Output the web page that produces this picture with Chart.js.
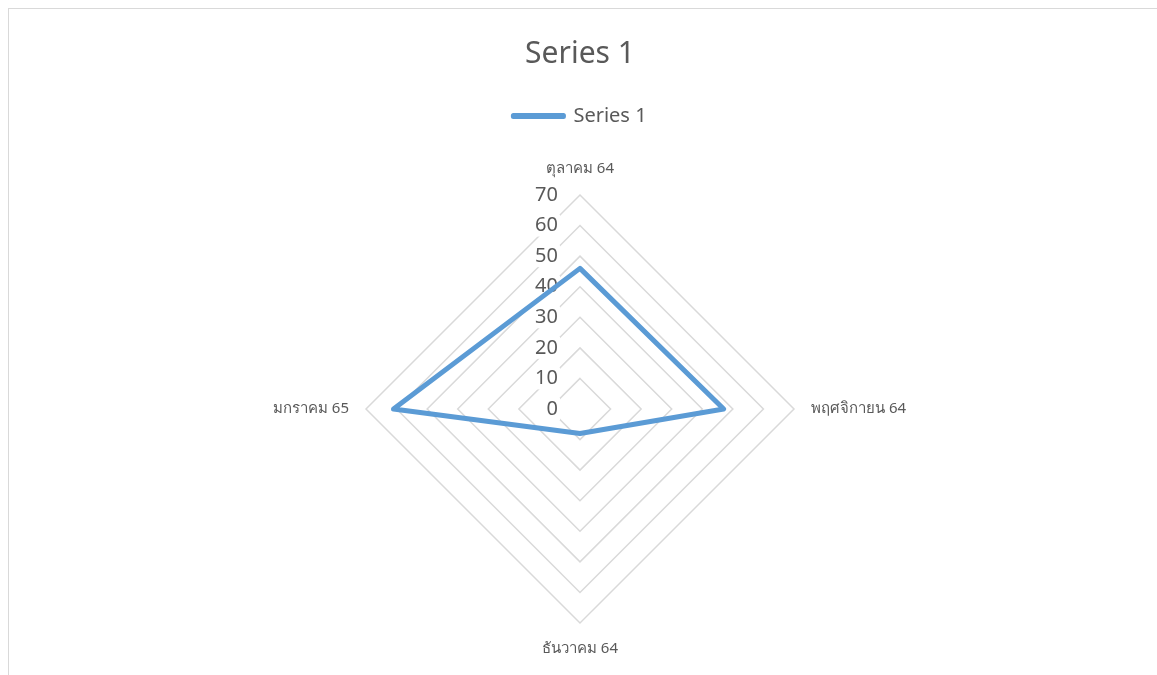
<!DOCTYPE html>
<html>
<head>
<meta charset="utf-8">
<script src="https://cdn.jsdelivr.net/npm/chart.js@4.4.0/dist/chart.umd.min.js"></script>
<style>
  body { margin: 0; background: #fff; }
  #wrap { position: absolute; left: 0; top: 0; width: 1157px; height: 675px; }
  #frame { position: absolute; left: 8px; top: 8px; width: 1160px; height: 680px;
           border-left: 1px solid #d9d9d9; border-top: 1px solid #d9d9d9; }
</style>
</head>
<body>
<div id="frame"></div>
<div id="wrap"><canvas id="radarChart"></canvas></div>
<script>
// --- data ---
const months = ['ตุลาคม 64', 'พฤศจิกายน 64', 'ธันวาคม 64', 'มกราคม 65'];
const series1 = [46, 47, 8, 61];
const tickValues = [0, 10, 20, 30, 40, 50, 60, 70];

const textColor = '#595959';
const fontFamily = "'Noto Sans', 'Open Sans', sans-serif";

// tick labels left of the vertical axis, like Excel
const tickLabelPlugin = {
  id: 'tickLabels',
  beforeInit(chart) {
    // extra room under the legend
    const fit = chart.legend.fit;
    chart.legend.fit = function () {
      fit.call(this);
      this.height += 24;
    };
  },
  beforeDatasetsDraw(chart) {
    const scale = chart.scales.r;
    const ctx = chart.ctx;
    ctx.save();
    ctx.font = '20px ' + fontFamily;
    ctx.textAlign = 'right';
    ctx.textBaseline = 'middle';
    tickValues.forEach(v => {
      const y = scale.yCenter - scale.getDistanceFromCenterForValue(v);
      const x = scale.xCenter - 22;
      const w = ctx.measureText(String(v)).width;
      ctx.fillStyle = '#fff';
      ctx.fillRect(x - w - 2, y - 11, w + 4, 22);
      ctx.fillStyle = textColor;
      ctx.fillText(String(v), x, y);
    });
    ctx.restore();
  }
};

const ctx = document.getElementById('radarChart').getContext('2d');
new Chart(ctx, {
  type: 'radar',
  data: {
    labels: months,
    datasets: [{
      label: 'Series 1',
      data: series1,
      borderColor: '#5b9bd5',
      backgroundColor: '#5b9bd5',
      borderWidth: 5,
      borderJoinStyle: 'round',
      borderCapStyle: 'round',
      fill: false,
      pointRadius: 0,
      pointHoverRadius: 0,
      tension: 0
    }]
  },
  options: {
    responsive: true,
    maintainAspectRatio: false,
    animation: false,
    layout: { padding: { left: 3, right: 0, top: 0, bottom: 16 } },
    plugins: {
      title: {
        display: true,
        text: 'Series 1',
        color: textColor,
        font: { size: 30, family: fontFamily, weight: 'normal' },
        padding: { top: 36, bottom: 24 }
      },
      legend: {
        display: true,
        labels: {
          color: textColor,
          font: { size: 20, family: fontFamily },
          boxWidth: 50,
          boxHeight: 1
        }
      },
      tooltip: { enabled: false }
    },
    scales: {
      r: {
        min: 0,
        max: 70,
        ticks: { stepSize: 10, display: false },
        grid: { color: '#d9d9d9', lineWidth: 1.5 },
        angleLines: { display: false },
        pointLabels: {
          color: textColor,
          font: { size: 15, family: fontFamily },
          padding: 17
        }
      }
    }
  },
  plugins: [tickLabelPlugin]
});
</script>
</body>
</html>
